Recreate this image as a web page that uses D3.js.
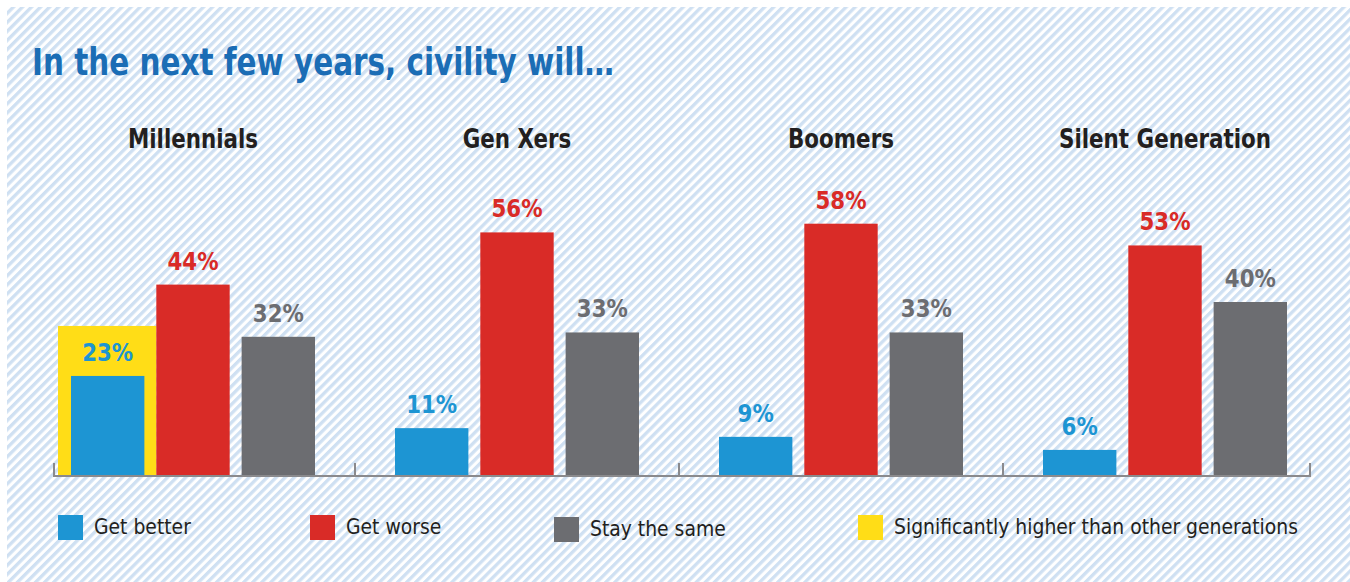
<!DOCTYPE html>
<html>
<head>
<meta charset="utf-8">
<script src="https://cdn.jsdelivr.net/npm/d3@7"></script>
<style>
  html, body { margin: 0; padding: 0; background: #fff; }
  svg { display: block; }
</style>
</head>
<body>
<div id="chart"></div>
<script>
	// chart data
	var generations = ["Millennials", "Gen Xers", "Boomers", "Silent Generation"];
	var series = ["Get better", "Get worse", "Stay the same"];
	var getBetter = [23, 11, 9, 6];
	var getWorse = [44, 56, 58, 53];
	var stayTheSame = [32, 33, 33, 40];
	// which bars are significantly higher than the other generations
	var significant = [{gen: "Millennials", series: "Get better"}];
	var legendLabels = ["Get better", "Get worse", "Stay the same", "Significantly higher than other generations"];

	var W = 1350, H = 582;
	var colors = {"Get better": "#1d95d3", "Get worse": "#d92b27", "Stay the same": "#6c6d71"};
	var yellow = "#ffdd17";
	var condensed = "'DejaVu Sans Condensed', 'DejaVu Sans', sans-serif";

	var values = {"Get better": getBetter, "Get worse": getWorse, "Stay the same": stayTheSame};

	var svg = d3.select("#chart").append("svg")
		.attr("width", W)
		.attr("height", H);

	// striped background
	var defs = svg.append("defs");
	var pat = defs.append("pattern")
		.attr("id", "stripes")
		.attr("patternUnits", "userSpaceOnUse")
		.attr("width", 6.4)
		.attr("height", 6.4)
		.attr("patternTransform", "rotate(45)");
	pat.append("rect").attr("width", 6.4).attr("height", 6.4).attr("fill", "#ffffff");
	pat.append("rect").attr("width", 3.3).attr("height", 6.4).attr("fill", "#cfe0f2");

	svg.append("rect")
		.attr("x", 7).attr("y", 7)
		.attr("width", W - 7).attr("height", H - 7)
		.attr("fill", "url(#stripes)");

	// squeeze a text to a given width (the original face is narrower than ours)
	function fitTo(sel, width) {
		sel.attr("textLength", width).attr("lengthAdjust", "spacingAndGlyphs");
	}
	function squeeze(sel, f) {
		sel.each(function(){
			var w = this.getComputedTextLength();
			d3.select(this).attr("textLength", w * f).attr("lengthAdjust", "spacingAndGlyphs");
		});
	}

	// title
	var title = svg.append("text")
		.attr("x", 32).attr("y", 75)
		.attr("font-family", condensed)
		.attr("font-weight", "bold")
		.attr("font-size", 37)
		.attr("fill", "#1b6db5")
		.text("In the next few years, civility will\u2026");
	fitTo(title, 582);

	// scales
	var baseline = 476;
	var x0 = d3.scaleBand().domain(generations).range([31, 1327]);
	var x1 = d3.scaleBand().domain(series).range([-122, 122]).paddingInner(0.14);
	var y = d3.scaleLinear().domain([0, 60]).range([baseline, baseline - 261]);

	var groups = svg.selectAll("g.gen")
		.data(generations)
		.enter().append("g")
		.attr("class", "gen")
		.attr("transform", function(d){ return "translate(" + (x0(d) + x0.bandwidth() / 2) + ",0)"; });

	// generation titles
	var genLabels = groups.append("text")
		.attr("x", 0).attr("y", 148)
		.attr("text-anchor", "middle")
		.attr("font-family", condensed)
		.attr("font-weight", "bold")
		.attr("font-size", 26)
		.attr("fill", "#231f20")
		.text(function(d){ return d; });
	var gw = genLabels.filter(function(d){ return d == "Silent Generation"; }).node().getComputedTextLength();
	squeeze(genLabels, 212 / gw);

	// bar rows per generation
	var cells = groups.selectAll("g.cell")
		.data(function(d, i){
			return series.map(function(s){
				var sig = significant.some(function(o){ return o.gen == d && o.series == s; });
				return {gen: d, series: s, value: values[s][i], sig: sig};
			});
		})
		.enter().append("g")
		.attr("class", "cell");

	// yellow highlight behind significant bars
	cells.filter(function(d){ return d.sig; })
		.append("rect")
		.attr("x", function(d){ return x1(d.series) - 13; })
		.attr("y", function(d){ return y(d.value) - 50; })
		.attr("width", x1.bandwidth() + 25)
		.attr("height", function(d){ return baseline - y(d.value) + 50; })
		.attr("fill", yellow);

	cells.append("rect")
		.attr("x", function(d){ return x1(d.series); })
		.attr("y", function(d){ return y(d.value); })
		.attr("width", x1.bandwidth())
		.attr("height", function(d){ return baseline - y(d.value); })
		.attr("fill", function(d){ return colors[d.series]; });

	var valLabels = cells.append("text")
		.attr("x", function(d){ return x1(d.series) + x1.bandwidth() / 2; })
		.attr("y", function(d){ return y(d.value) - 15; })
		.attr("text-anchor", "middle")
		.attr("font-family", condensed)
		.attr("font-weight", "bold")
		.attr("font-size", 25)
		.attr("fill", function(d){ return colors[d.series]; })
		.text(function(d){ return d.value + "%"; });
	var vw = valLabels.filter(function(d){ return d.value == 44; }).node().getComputedTextLength();
	squeeze(valLabels, 51 / vw);

	// axis line with group separators
	var axisColor = "#8a8a8d";
	var tickXs = [54].concat(generations.slice(1).map(function(d){ return x0(d); })).concat([1310]);
	svg.append("line")
		.attr("x1", 54).attr("x2", 1310)
		.attr("y1", baseline).attr("y2", baseline)
		.attr("stroke", axisColor).attr("stroke-width", 2);
	svg.selectAll("line.tick")
		.data(tickXs)
		.enter().append("line")
		.attr("class", "tick")
		.attr("x1", function(d){ return d; }).attr("x2", function(d){ return d; })
		.attr("y1", baseline - 13).attr("y2", baseline + 1)
		.attr("stroke", axisColor).attr("stroke-width", 2);

	// legend
	var legendX = [58, 310, 554, 858];
	var legendColors = [colors["Get better"], colors["Get worse"], colors["Stay the same"], yellow];
	var legend = svg.selectAll("g.legend")
		.data(legendLabels)
		.enter().append("g")
		.attr("class", "legend")
		.attr("transform", function(d, i){ return "translate(" + legendX[i] + "," + (i == 2 ? 517 : 515) + ")"; });
	legend.append("rect")
		.attr("width", 25).attr("height", 25)
		.attr("fill", function(d, i){ return legendColors[i]; });
	var legTexts = legend.append("text")
		.attr("x", 36).attr("y", 19)
		.attr("font-family", condensed)
		.attr("font-size", 22)
		.attr("fill", "#231f20")
		.text(function(d){ return d; });
	var lw = legTexts.filter(function(d, i){ return i == 3; }).node().getComputedTextLength();
	squeeze(legTexts, 404 / lw);
</script>
</body>
</html>
